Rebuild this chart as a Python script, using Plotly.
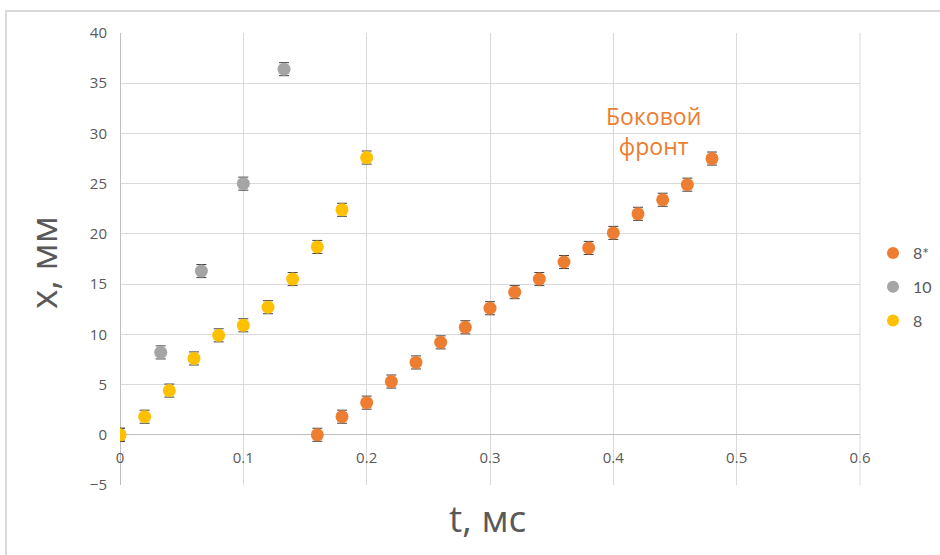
import plotly.graph_objects as go

# Series "8*" (side front)
t_8s = [0.16, 0.18, 0.20, 0.22, 0.24, 0.26, 0.28, 0.30, 0.32, 0.34, 0.36, 0.38, 0.40, 0.42, 0.44, 0.46, 0.48]
x_8s = [0.0, 1.8, 3.2, 5.3, 7.2, 9.2, 10.7, 12.6, 14.2, 15.5, 17.2, 18.6, 20.1, 22.0, 23.4, 24.9, 27.5]

# Series "10"
t_10 = [0.0, 0.033, 0.066, 0.1, 0.133]
x_10 = [0.0, 8.2, 16.3, 25.0, 36.4]

# Series "8"
t_8 = [0.0, 0.02, 0.04, 0.06, 0.08, 0.10, 0.12, 0.14, 0.16, 0.18, 0.20]
x_8 = [0.0, 1.8, 4.4, 7.6, 9.9, 10.9, 12.7, 15.5, 18.7, 22.4, 27.6]

err = 0.65

x_ticks = [0, 0.1, 0.2, 0.3, 0.4, 0.5, 0.6]
x_tick_text = ["0", "0.1", "0.2", "0.3", "0.4", "0.5", "0.6"]
y_ticks = [-5, 0, 5, 10, 15, 20, 25, 30, 35, 40]

series = [
    ("8*", t_8s, x_8s, "#ED7D31"),
    ("10", t_10, x_10, "#A5A5A5"),
    ("8", t_8, x_8, "#FFC000"),
]

fig = go.Figure()
for name, tx, xx, col in series:
    fig.add_trace(go.Scatter(
        x=tx, y=xx, mode="markers", name=name, legendgroup=name,
        marker=dict(color=col, size=13, line=dict(width=0)),
        error_y=dict(type="constant", value=err, color="#404040", thickness=1, width=5),
    ))

W, H = 940, 555
ml, mr, mt, mb = 120, 80, 33, 70
pw, ph = W - ml - mr, H - mt - mb

def px_x(p):
    return (p - ml) / pw

def px_y(p):
    return (H - mb - p) / ph

fig.update_layout(
    width=W, height=H,
    margin=dict(l=ml, r=mr, t=mt, b=mb, autoexpand=False),
    paper_bgcolor="white", plot_bgcolor="white",
    font=dict(family="Open Sans, Lato, sans-serif", color="#595959"),
    showlegend=True,
    legend=dict(
        x=px_x(873), y=px_y(287), xanchor="left", yanchor="middle",
        font=dict(size=16, color="#595959", family="Lato, Open Sans, sans-serif"),
        itemsizing="constant", tracegroupgap=10, bgcolor="rgba(0,0,0,0)",
    ),
    xaxis=dict(
        range=[0, 0.6], tickvals=x_ticks, ticktext=x_tick_text,
        showgrid=True, gridcolor="#D9D9D9", gridwidth=1,
        zeroline=True, zerolinecolor="#BFBFBF", zerolinewidth=1,
        showline=False, ticks="",
        anchor="free", position=px_y(435),
        ticklabelstandoff=12,
        tickfont=dict(size=15, color="#595959"),
        automargin=False,
    ),
    yaxis=dict(
        range=[-5, 40], tickvals=y_ticks,
        showgrid=True, gridcolor="#D9D9D9", gridwidth=1,
        zeroline=True, zerolinecolor="#BFBFBF", zerolinewidth=1,
        showline=False, ticks="",
        ticklabelstandoff=12,
        tickfont=dict(size=15, color="#595959"),
        automargin=False,
    ),
    annotations=[
        dict(text="Боковой<br>фронт", x=px_x(653), y=px_y(131), xref="paper", yref="paper",
             xanchor="center", yanchor="middle",
             showarrow=False, font=dict(size=23, color="#ED7D31"), align="center"),
        dict(text="x, мм", x=px_x(42), y=px_y(263), xref="paper", yref="paper",
             xanchor="center", yanchor="middle",
             showarrow=False, textangle=-90, font=dict(size=37, color="#595959")),
        dict(text="t, мс", x=px_x(487), y=px_y(517), xref="paper", yref="paper",
             xanchor="center", yanchor="middle",
             showarrow=False, font=dict(size=37, color="#595959")),
    ],
    shapes=[
        dict(type="rect", xref="paper", yref="paper",
             x0=px_x(6), y0=px_y(600), x1=px_x(1000), y1=px_y(11),
             line=dict(color="#D9D9D9", width=2), fillcolor="rgba(0,0,0,0)", layer="below"),
        dict(type="line", xref="paper", yref="paper",
             x0=1, y0=0, x1=1, y1=1, line=dict(color="#D9D9D9", width=1)),
    ],
)

fig.write_html("out.html")
